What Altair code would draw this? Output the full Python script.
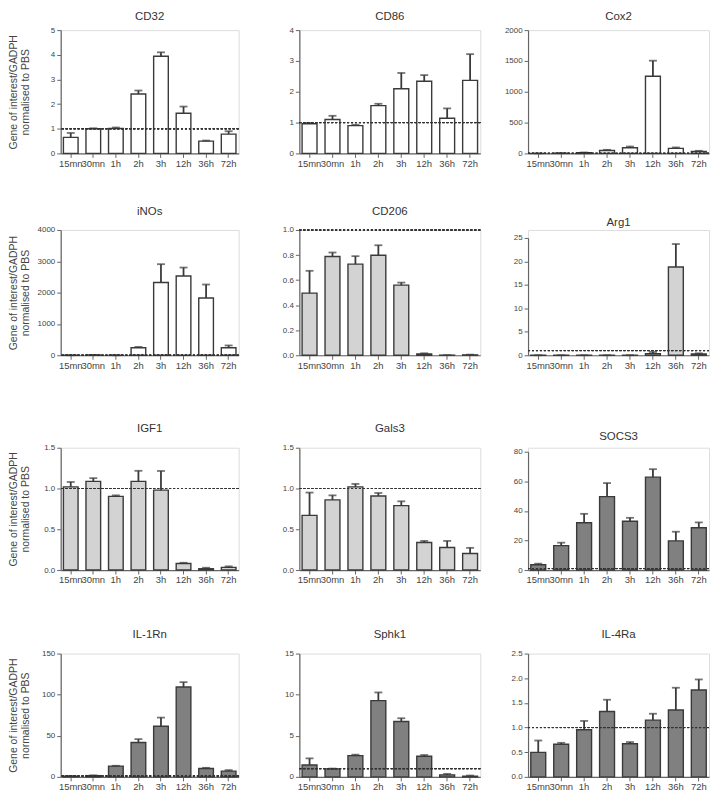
import altair as alt
import pandas as pd

FONT = "Liberation Sans"

times = ["15mn", "30mn", "1h", "2h", "3h", "12h", "36h", "72h"]

y_title = ["Gene of interest/GADPH", "normalised to PBS"]

# ---- data (mean, SEM) ----
cd32_mean = [0.65, 1.00, 1.01, 2.41, 3.94, 1.63, 0.50, 0.78]
cd32_err = [0.18, 0.02, 0.04, 0.14, 0.16, 0.27, 0.02, 0.12]

cd86_mean = [0.96, 1.10, 0.90, 1.55, 2.10, 2.34, 1.14, 2.37]
cd86_err = [0.03, 0.12, 0.03, 0.06, 0.51, 0.20, 0.32, 0.85]

cox2_mean = [1, 3, 12, 48, 92, 1251, 81, 32]
cox2_err = [0, 1, 3, 10, 20, 253, 16, 10]

inos_mean = [0, 8, 0, 238, 2324, 2530, 1827, 238]
inos_err = [0, 2, 0, 30, 584, 270, 432, 75]

cd206_mean = [0.496, 0.788, 0.727, 0.798, 0.560, 0.011, 0.001, 0.003]
cd206_err = [0.178, 0.032, 0.064, 0.080, 0.020, 0.005, 0.000, 0.002]

arg1_mean = [0.01, 0.01, 0.01, 0.01, 0.01, 0.35, 18.8, 0.28]
arg1_err = [0.0, 0.0, 0.0, 0.0, 0.0, 0.35, 4.9, 0.14]

igf1_mean = [1.02, 1.087, 0.904, 1.087, 0.98, 0.081, 0.016, 0.032]
igf1_err = [0.06, 0.04, 0.012, 0.13, 0.235, 0.008, 0.012, 0.013]

gals3_mean = [0.67, 0.86, 1.02, 0.908, 0.79, 0.337, 0.276, 0.203]
gals3_err = [0.28, 0.056, 0.036, 0.037, 0.053, 0.02, 0.081, 0.069]

socs3_mean = [3.6, 16.5, 32.0, 49.6, 33.0, 62.8, 19.7, 28.6]
socs3_err = [0.7, 2.0, 6.0, 9.2, 2.3, 5.4, 6.2, 3.6]

il1rn_mean = [0.8, 1.5, 13.1, 41.8, 61.5, 109.4, 10.2, 7.0]
il1rn_err = [0.2, 0.3, 0.4, 4.1, 10.6, 5.8, 0.8, 1.2]

sphk1_mean = [1.45, 0.97, 2.58, 9.27, 6.73, 2.50, 0.24, 0.08]
sphk1_err = [0.80, 0.04, 0.12, 1.00, 0.40, 0.16, 0.12, 0.08]

il4ra_mean = [0.497, 0.66, 0.954, 1.324, 0.672, 1.15, 1.357, 1.76]
il4ra_err = [0.24, 0.03, 0.18, 0.24, 0.034, 0.13, 0.45, 0.215]

# axis tick values per panel
cd32_ticks = [0, 1, 2, 3, 4, 5]
cd86_ticks = [0, 1, 2, 3, 4]
cox2_ticks = [0, 500, 1000, 1500, 2000]
inos_ticks = [0, 1000, 2000, 3000, 4000]
cd206_ticks = [0.0, 0.2, 0.4, 0.6, 0.8, 1.0]
arg1_ticks = [0, 5, 10, 15, 20, 25]
igf1_ticks = [0.0, 0.5, 1.0, 1.5]
gals3_ticks = [0.0, 0.5, 1.0, 1.5]
socs3_ticks = [0, 20, 40, 60, 80]
il1rn_ticks = [0, 50, 100, 150]
sphk1_ticks = [0, 5, 10, 15]
il4ra_ticks = [0.0, 0.5, 1.0, 1.5, 2.0, 2.5]

WHITE = "#ffffff"
LIGHT = "#d3d3d3"
DARK = "#808080"
INK = "#3a3a3a"

COL_WIDTH = [179, 182, 182]
COL_EXTENT = [25, 39, 26]
ROW_HEIGHT = [124, 126, 123, 124]


def panel(name, mean, err, ticks, fmt, fill, col, row, title_offset=9,
          shrink=0):
    df = pd.DataFrame({"time": times, "mean": mean, "err": err})
    df["upper"] = df["mean"] + df["err"]
    df["ref"] = 1.0
    h = ROW_HEIGHT[row]
    yscale = alt.Scale(domain=[0, ticks[-1]], nice=False, zero=True,
                       range=[h, shrink])
    axis_kw = dict(
        values=ticks, format=fmt, grid=False, tickSize=4, labelPadding=2,
        labelFontSize=8, labelColor="#444", domainColor="#666", tickColor="#666",
        domainWidth=1.2, tickWidth=1, minExtent=COL_EXTENT[col],
        labelFont=FONT,
    )
    if col == 0:
        yaxis = alt.Axis(title=y_title, titleFontSize=10.5, titleFontWeight="normal",
                         titleColor="#444", titlePadding=5, titleLineHeight=12,
                         titleFont=FONT, **axis_kw)
    else:
        yaxis = alt.Axis(title=None, **axis_kw)
    xenc = alt.X("time:N", sort=times,
                 scale=alt.Scale(paddingInner=0.35, paddingOuter=0.12),
                 axis=alt.Axis(title=None, labelAngle=0, labelOverlap=False,
                               labelFontSize=9.5, labelColor="#444", labelFont=FONT,
                               domainColor="#666", tickColor="#666", domainWidth=1.2,
                               tickSize=4, labelPadding=1, labelBound=False))
    base = alt.Chart(df)
    bars = base.mark_bar(fill=fill, stroke=INK, strokeWidth=1.4).encode(
        x=xenc, y=alt.Y("mean:Q", scale=yscale, axis=yaxis))
    ebar = base.mark_rule(color=INK, strokeWidth=1.8).encode(
        x=xenc, y=alt.Y("mean:Q", scale=yscale, axis=yaxis), y2="upper:Q")
    cap = base.mark_tick(orient="horizontal", color=INK, size=8, thickness=1.8).encode(
        x=xenc, y=alt.Y("upper:Q", scale=yscale, axis=yaxis))
    ref = base.mark_rule(color="#333", strokeDash=[2, 2], strokeWidth=1).encode(
        y=alt.Y("ref:Q", scale=yscale, axis=yaxis))
    title = alt.TitleParams(name, fontSize=11.5, fontWeight="normal", color="#333",
                            font=FONT, offset=title_offset, frame="group",
                            anchor="middle", dy=shrink)
    return alt.layer(bars, ebar, cap, ref).properties(
        width=COL_WIDTH[col], height=h, title=title)


row1 = alt.hconcat(
    panel("CD32", cd32_mean, cd32_err, cd32_ticks, "d", WHITE, 0, 0, 4),
    panel("CD86", cd86_mean, cd86_err, cd86_ticks, "d", WHITE, 1, 0, 4),
    panel("Cox2", cox2_mean, cox2_err, cox2_ticks, "d", WHITE, 2, 0, 4),
    spacing=20,
)
row2 = alt.hconcat(
    panel("iNOs", inos_mean, inos_err, inos_ticks, "d", WHITE, 0, 1),
    panel("CD206", cd206_mean, cd206_err, cd206_ticks, ".1f", LIGHT, 1, 1),
    panel("Arg1", arg1_mean, arg1_err, arg1_ticks, "d", LIGHT, 2, 1, shrink=8),
    spacing=20,
)
row3 = alt.hconcat(
    panel("IGF1", igf1_mean, igf1_err, igf1_ticks, ".1f", LIGHT, 0, 2),
    panel("Gals3", gals3_mean, gals3_err, gals3_ticks, ".1f", LIGHT, 1, 2),
    panel("SOCS3", socs3_mean, socs3_err, socs3_ticks, "d", DARK, 2, 2, shrink=4),
    spacing=20,
)
row4 = alt.hconcat(
    panel("IL-1Rn", il1rn_mean, il1rn_err, il1rn_ticks, "d", DARK, 0, 3),
    panel("Sphk1", sphk1_mean, sphk1_err, sphk1_ticks, "d", DARK, 1, 3),
    panel("IL-4Ra", il4ra_mean, il4ra_err, il4ra_ticks, ".1f", DARK, 2, 3),
    spacing=20,
)

top = alt.vconcat(row1, row2, spacing=37)
bottom = alt.vconcat(row3, row4, spacing=44)
chart = alt.vconcat(top, bottom, spacing=53).properties(
    padding=0
).configure_view(stroke=None).configure(font=FONT, background="white")

chart.save("out.html", embed_options={"renderer": "svg", "actions": False})
